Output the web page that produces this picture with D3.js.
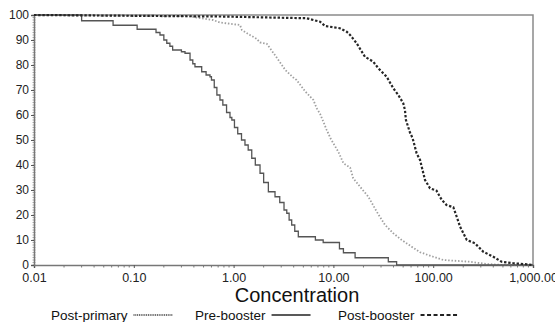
<!DOCTYPE html>
<html>
<head>
<meta charset="utf-8">
<script src="https://cdn.jsdelivr.net/npm/d3@7"></script>
<style>
  body { margin: 0; background: #fff; }
  svg { display: block; font-family: "Liberation Sans", Arial, sans-serif; }
</style>
</head>
<body>
<div id="chart"></div>
<script>
// reverse cumulative distributions: [concentration, percent]
const postPrimary = [
  [0.01, 100], [0.36, 99.5], [0.48, 98.7], [0.62, 98], [0.73, 97], [1.16, 96], [1.21, 94],
  [1.46, 92], [1.70, 90.5], [1.84, 89], [2.15, 88.5], [2.70, 83], [3.3, 78], [3.96, 75],
  [4.28, 74], [5.2, 69.5], [6.3, 66], [6.8, 62.7], [7.35, 60.5], [7.93, 57.3], [8.57, 54],
  [9.4, 50.5], [11.2, 45.3], [12.6, 40.7], [14.7, 39], [15.8, 34.7], [18.5, 31.3],
  [22.4, 27.3], [27.2, 21.3], [32.9, 16], [39.8, 12.7], [48.3, 10], [60.9, 7.3],
  [73.8, 5.1], [100, 3.3], [126, 2], [234, 1.3], [344, 0.4], [504, 0], [1000, 0]
];
const preBooster = [
  [0.01, 100], [0.030, 97.7], [0.062, 95.9], [0.108, 94.3], [0.167, 93], [0.183, 92],
  [0.20, 90], [0.214, 88.7], [0.23, 87.5], [0.245, 86], [0.30, 85.3], [0.326, 84.7],
  [0.366, 82], [0.39, 80.5], [0.41, 79.3], [0.479, 77.3], [0.53, 76], [0.58, 75.3],
  [0.60, 74], [0.64, 71], [0.68, 68], [0.73, 66], [0.78, 64], [0.85, 61], [0.92, 59],
  [0.96, 58], [1.02, 55], [1.1, 52.5], [1.2, 50], [1.3, 48], [1.4, 46], [1.52, 42.7],
  [1.65, 40], [1.84, 36.7], [2.0, 33], [2.23, 29.3], [2.6, 27.3], [2.9, 25], [3.2, 22],
  [3.41, 20.7], [3.6, 18], [3.82, 16], [4.1, 13.5], [4.45, 11.3], [6.6, 10], [7.9, 9],
  [11.5, 6.5], [12.6, 4.9], [16.5, 2.9], [35.5, 1.3], [43, 0], [1000, 0]
];
const postBooster = [
  [0.01, 100], [0.75, 99.4], [5.4, 98.7], [7.35, 97.3], [8.24, 95.6], [11.6, 94.7],
  [13.6, 93.3], [14.7, 92], [17.1, 88.7], [20.7, 83.3], [25.1, 81.3], [28.2, 78.7],
  [34.2, 75.3], [39.8, 70.7], [44.7, 68], [50.1, 64.7], [52.1, 62], [53.3, 58],
  [58.5, 53], [62.2, 50.7], [68.2, 44.7], [73.8, 42], [82.8, 34], [92.9, 30.7],
  [108, 29.7], [122, 26], [136, 24], [159, 23.1], [172, 19.3], [186, 15.3], [217, 10],
  [262, 8.7], [318, 5.3], [400, 3.3], [485, 1.3], [635, 0.7], [865, 0.3], [1000, 0]
];
const xTicks = [0.01, 0.1, 1, 10, 100, 1000];
const xTickLabels = ["0.01", "0.10", "1.00", "10.00", "100.00", "1,000.00"];
const yTicks = [0, 10, 20, 30, 40, 50, 60, 70, 80, 90, 100];
const seriesNames = ["Post-primary", "Pre-booster", "Post-booster"];

const W = 555, H = 322;
const margin = { top: 15, right: 22, bottom: 57, left: 34 };
const width = W - margin.left - margin.right;
const height = H - margin.top - margin.bottom;

const svg = d3.select("#chart").append("svg")
  .attr("width", W)
  .attr("height", H);

const g = svg.append("g")
  .attr("transform", `translate(${margin.left}, ${margin.top})`);

const x = d3.scaleLog().domain([0.01, 1000]).range([0, width]);
const y = d3.scaleLinear().domain([0, 100]).range([height, 0]);

// frame (top + right)
g.append("path")
  .attr("d", `M0,0H${width}V${height}`)
  .attr("fill", "none")
  .attr("stroke", "#8a8a8a")
  .attr("stroke-width", 1.5);

// minor ticks
const minorX = [];
for (let e = -2; e < 3; e++) for (let k = 2; k <= 9; k++) minorX.push(k * Math.pow(10, e));
g.append("g")
  .attr("transform", `translate(0, ${height})`)
  .selectAll("line").data(minorX).join("line")
  .attr("x1", d => x(d)).attr("x2", d => x(d))
  .attr("y1", 0).attr("y2", 2.5)
  .attr("stroke", "#777");

g.append("g")
  .selectAll("line").data(d3.range(0, 101, 1)).join("line")
  .attr("x1", -1.5).attr("x2", 1.5)
  .attr("y1", d => y(d)).attr("y2", d => y(d))
  .attr("stroke", "#999").attr("stroke-width", 0.8);

// axes
const xAxis = d3.axisBottom(x).tickValues(xTicks)
  .tickFormat((d, i) => xTickLabels[i]).tickSize(3).tickPadding(5);
const yAxis = d3.axisLeft(y).tickValues(yTicks).tickSize(3).tickPadding(2);

const gx = g.append("g")
  .attr("class", "axis axis--x")
  .attr("transform", `translate(0, ${height})`)
  .call(xAxis);
const gy = g.append("g")
  .attr("class", "axis axis--y")
  .call(yAxis);

[gx, gy].forEach(a => {
  a.select(".domain").attr("stroke", "#777").attr("stroke-width", 1.5);
  a.selectAll(".tick line").attr("stroke", "#555");
  a.selectAll("text").attr("fill", "#222").attr("font-size", 12.5);
});
gy.selectAll("text").attr("font-size", 12).attr("dy", "0.3em");

// axis title
svg.append("text")
  .attr("x", 297)
  .attr("y", 302)
  .attr("text-anchor", "middle")
  .attr("font-size", 20)
  .attr("fill", "#111")
  .text("Concentration");

const stepLine = d3.line()
  .x(d => x(d[0]))
  .y(d => y(d[1]))
  .curve(d3.curveStepAfter);
const traceLine = d3.line()
  .x(d => x(d[0]))
  .y(d => y(d[1]));

const styles = [
  { data: postPrimary, stroke: "#a0a0a0", width: 1.8, dash: "1.5,1.8", gen: traceLine },
  { data: preBooster, stroke: "#555", width: 1.3, dash: null, gen: stepLine },
  { data: postBooster, stroke: "#262626", width: 2.2, dash: "2.4,1.8", gen: traceLine }
];

styles.forEach(s => {
  g.append("path")
    .datum(s.data)
    .attr("class", "line-path")
    .attr("fill", "none")
    .attr("stroke", s.stroke)
    .attr("stroke-width", s.width)
    .attr("stroke-dasharray", s.dash)
    .attr("d", s.gen);
});

// legend
const legendX = [51, 195, 338];
const legend = svg.append("g").attr("transform", "translate(0, 315)");
seriesNames.forEach((name, i) => {
  const t = legend.append("text")
    .attr("x", legendX[i])
    .attr("y", 4.5)
    .attr("font-size", 13.5)
    .attr("fill", "#111")
    .text(name);
  const tw = t.node().getComputedTextLength();
  legend.append("line")
    .attr("x1", legendX[i] + tw + 6)
    .attr("x2", legendX[i] + tw + 45)
    .attr("y1", 0).attr("y2", 0)
    .attr("stroke", i === 0 ? "#333" : "#222")
    .attr("stroke-width", i === 2 ? 2 : 1.5)
    .attr("stroke-dasharray", i === 0 ? "1,0.8" : i === 2 ? "4,2.5" : null);
});
</script>
</body>
</html>
